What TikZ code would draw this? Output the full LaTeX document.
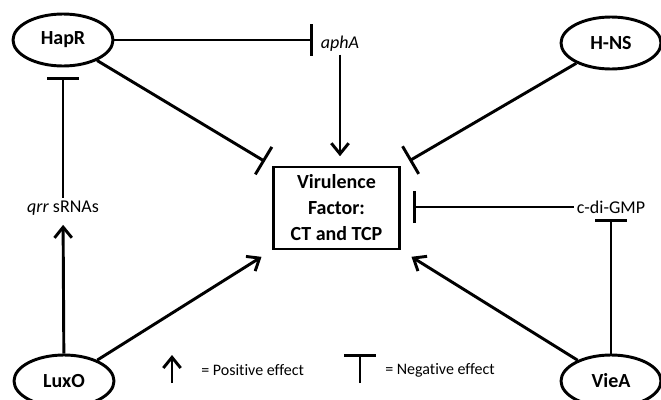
\documentclass[tikz,border=0pt]{standalone}
\usepackage{fontspec}
\setmainfont{Carlito}[Ligatures=NoCommon]
\usetikzlibrary{arrows.meta,shapes.geometric}

\tikzset{
  gene/.style={ellipse, draw, line width=2.2pt, minimum width=75pt, minimum height=39pt,
    inner sep=0pt, font=\fontsize{15}{18}\selectfont\bfseries},
  lbl/.style={inner sep=2pt, font=\fontsize{13.5}{16}\selectfont},
  key/.style={inner sep=0pt, anchor=west, font=\fontsize{12}{14}\selectfont},
  act/.style={line width=2.2pt, -{Straight Barb[length=8pt,width=13pt]}},
  inh/.style={line width=2.2pt, -{Bar[width=24pt]}},
}

\begin{document}
\begin{tikzpicture}[x=0.75pt,y=-0.75pt]
\useasboundingbox (0,0) rectangle (661,400);

% regulators
\node[gene] (hapr) at (63,40) {HapR};
\node[gene] (hns) at (611,43) {H-NS};
\node[gene] (luxo) at (64,381) {LuxO};
\node[gene] (viea) at (611,381) {VieA};

% virulence factor
\node[draw, line width=2.2pt, minimum width=95pt, minimum height=61.5pt, inner sep=0pt,
  align=center, font=\fontsize{15}{19.5}\selectfont\bfseries] (vf) at (336.5,208)
  {Virulence\\Factor:\\CT and TCP};

% intermediates
\node[lbl] (apha) at (340,44) {\textit{aphA}};
\node[lbl] (qrr) at (63,208) {\textit{qrr} sRNAs};
\node[lbl] (cdg) at (611,207) {c-di-GMP};

% connections
\draw[inh, shorten >=4pt] (hapr.east) -- (hapr.east -| apha.west);
\draw[act, shorten >=7pt] (apha.south) -- (apha.south |- vf.north);
\draw[inh, shorten >=6pt] (hapr) -- (vf.north west);
\draw[inh, shorten >=7pt] (hns) -- (vf.north east);
\draw[inh, shorten >=9pt] (cdg.west) -- (cdg.west -| vf.east);
\draw[inh, shorten >=2pt] (viea) -- (cdg);
\draw[act, shorten >=9pt] (viea) -- (vf.south east);
\draw[act, shorten >=9pt] (luxo) -- (vf.south west);
\draw[act, shorten >=5pt] (luxo) -- (qrr);
\draw[inh, shorten >=7pt] (qrr) -- (hapr);

% key
\coordinate (posfoot) at (172,383);
\coordinate (postip) at (172,355);
\draw[act] (posfoot) -- (postip);
\node[key] (pos) at (201,370) {= Positive effect};
\coordinate (negfoot) at (360,383);
\coordinate (negtip) at (360,354);
\draw[inh] (negfoot) -- (negtip);
\node[key] (neg) at (385,370) {= Negative effect};
\end{tikzpicture}
\end{document}
